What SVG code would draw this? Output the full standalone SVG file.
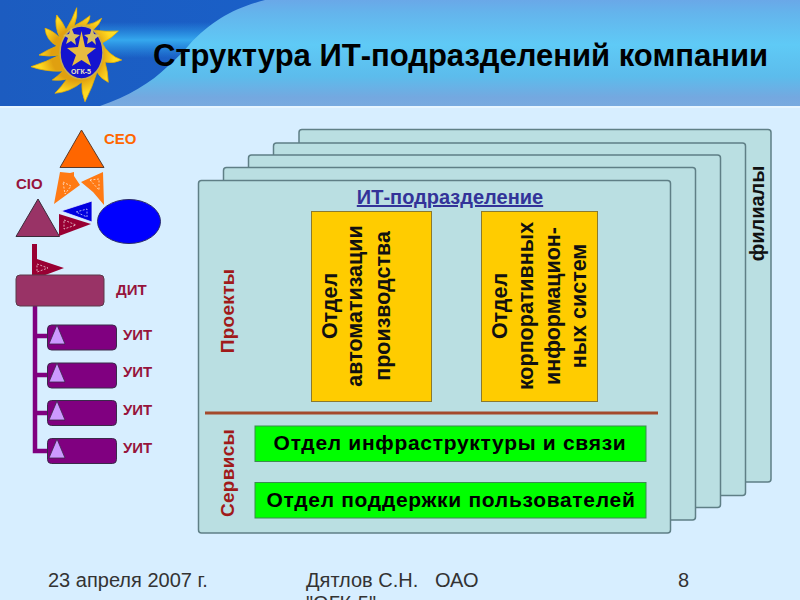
<svg xmlns="http://www.w3.org/2000/svg" width="800" height="600" viewBox="0 0 800 600">
<style>
text{font-family:"Liberation Sans",Arial,sans-serif}
.card{fill:#badfe2;stroke:#5f7f86;stroke-width:1.5}
.y{fill:#ffcc00;stroke:#8a7a30;stroke-width:1}
.g{fill:#00ff00;stroke:#3c8c50;stroke-width:1}
.v{font-size:21.500px;font-weight:bold;fill:#111;text-anchor:middle}
.b{font-size:21px;font-weight:bold;fill:#000;text-anchor:middle;letter-spacing:.7px}
.lab{font-size:15px;font-weight:bold;fill:#96143c}
.u{fill:#800080;stroke:#3a2a4a;stroke-width:1}
.tr{fill:#cc99ff;stroke:#3a2a4a;stroke-width:.8}
.foot{font-size:20px;fill:#333}
.dash{fill:none;stroke:#fff;stroke-opacity:.65;stroke-width:1;stroke-dasharray:2 1.5}
.conn{fill:none;stroke:#800080;stroke-width:4.500}
.side{font-size:19px;font-weight:bold;fill:#a01a1a;text-anchor:middle;letter-spacing:.3px}
</style>
<defs>
<linearGradient id="hdr" x1="0" y1="0" x2="1" y2="0">
<stop offset="0" stop-color="#1c5cc0"/><stop offset="1" stop-color="#1566d6"/>
</linearGradient>
<linearGradient id="sw" x1="0" y1="0" x2="0" y2="1">
<stop offset="0" stop-color="#6aa8e8"/><stop offset=".12" stop-color="#64b4ec"/><stop offset=".42" stop-color="#5fcaf6"/><stop offset=".72" stop-color="#5cbcec"/><stop offset=".92" stop-color="#74a8e0"/><stop offset="1" stop-color="#78aadf"/>
</linearGradient>
<linearGradient id="streak" x1="0" y1="0" x2="0" y2="1">
<stop offset="0" stop-color="#2a9ae8" stop-opacity="0"/><stop offset=".5" stop-color="#35a8ee"/><stop offset="1" stop-color="#2a9ae8" stop-opacity="0"/>
</linearGradient>
<radialGradient id="sun" cx=".5" cy=".5" r=".55">
<stop offset=".5" stop-color="#e0a010"/><stop offset=".75" stop-color="#ffd820"/><stop offset="1" stop-color="#ffe838"/>
</radialGradient>
</defs>
<rect width="800" height="600" fill="#d7eeff"/>
<g id="header">
<rect width="800" height="106" fill="url(#hdr)"/>
<rect x="100" y="22" width="110" height="36" fill="url(#streak)"/>
<path d="M265 0C235 8 212 20 189 45 178 58 172 62 167 67 152 82 127 97 100 106H800V0Z" fill="url(#sw)"/>
<rect y="106" width="800" height="2" fill="#e6f5ff"/>
<text x="153" y="66" font-size="31" font-weight="bold" fill="#000">Структура ИТ-подразделений компании</text>
</g>
<g id="logo">
<path d="M76.700 7.700Q78 16 74 26 Q82 22 90 15.700 Q90 20 86 25 Q94 24 101.700 18.300 Q100 24 93 30 Q106 32 118.300 31 Q112 38 102 43 Q108 55 121.700 60 Q114 64 105 62 Q108 72 108.300 82.300 Q100 78 97 72 Q92 88 85 101.700 Q81 92 82 82 Q70 92 55 93.300 Q62 86 67 79 Q60 81 52.300 80 Q58 76 63 71 Q46 72 31 66.700 Q46 62 60 55 Q48 57 39 55 Q47 50 57 46 Q46 40 45 28.300 Q52 30 60 38 Q54 26 56.700 15 Q63 22 66 30 Q72 20 76.700 7.700Z" fill="url(#sun)" stroke="#e8b000" stroke-width=".8"/>
<ellipse cx="81.500" cy="52.500" rx="21.500" ry="26.500" fill="#1414d0" stroke="#c8b050" stroke-width="1.500"/>
<path d="M81.500 31 85 47 96 48 87 55 91 66 81.500 60 72 66 76 55 67 48 78 47Z" fill="#e8bc40"/>
<path d="M71 27 74 34 80 35 75 39 76 45 71 41 66 44 68 38 63 35 69 34Z M92 27 94 34 100 35 95 39 96 45 92 41 87 44 88 38 84 35 90 34Z" fill="#d8c060"/>
<text x="81" y="74" font-size="7" font-weight="bold" fill="#f0e8c0" text-anchor="middle">ОГК-5</text>
</g>
<g id="card-4"><rect class="card" x="299" y="129.500" width="472" height="352.500" rx="3"/><text x="764" y="213.500" font-size="20" font-weight="bold" fill="#111" text-anchor="middle" transform="rotate(-90 764 213.500)">филиалы</text></g>
<g id="card-3"><rect class="card" x="273.500" y="143" width="472" height="352.500" rx="3"/></g>
<g id="card-2"><rect class="card" x="248.500" y="155" width="472" height="352.500" rx="3"/></g>
<g id="card-1"><rect class="card" x="223.500" y="167.500" width="472" height="352.500" rx="3"/></g>
<g id="card-0"><rect class="card" x="198.500" y="180.500" width="472" height="352.500" rx="3"/>
<text x="450" y="204" font-size="20" font-weight="bold" fill="#333399" text-anchor="middle" text-decoration="underline">ИТ-подразделение</text>
<text x="234" y="311" class="side" transform="rotate(-90 234 311)">Проекты</text>
<text x="234" y="473" class="side" transform="rotate(-90 234 473)">Сервисы</text>
<rect x="205" y="411.500" width="453" height="3" fill="#a34a2c"/>
</g>
<g id="dept-auto"><rect class="y" x="311.500" y="211.500" width="120" height="190"/>
<text class="v" transform="translate(337 306) rotate(-90)">Отдел</text>
<text class="v" transform="translate(362 306) rotate(-90)">автоматизации</text>
<text class="v" transform="translate(390 306) rotate(-90)">производства</text></g>
<g id="dept-corp"><rect class="y" x="481.500" y="211.500" width="116" height="190"/>
<text class="v" transform="translate(507 306) rotate(-90)">Отдел</text>
<text class="v" transform="translate(533 306) rotate(-90)">корпоративных</text>
<text class="v" transform="translate(560 306) rotate(-90)">информацион-</text>
<text class="v" transform="translate(586 306) rotate(-90)">ных систем</text></g>
<g id="dept-infra"><rect class="g" x="255" y="426" width="391" height="35.500"/><text class="b" x="450" y="450">Отдел инфраструктуры и связи</text></g>
<g id="dept-support"><rect class="g" x="255" y="482.500" width="391" height="35.500"/><text class="b" x="451" y="507">Отдел поддержки пользователей</text></g>

<g id="connectors">
<path d="M35 305V451H50M35 336H50M35 375H50M35 413H50" class="conn"/>
</g>
<g id="ceo"><path d="M81.500 130 104 167.500H60Z" fill="#ff6600" stroke="#5a3a2a"/><text x="104" y="144" class="lab" style="fill:#ff6600">CEO</text></g>
<g id="cio"><path d="M38 199 59.500 236.500H16Z" fill="#993366" stroke="#3a2a3a"/><text x="16" y="189" class="lab">CIO</text></g>
<g id="ellipse-node"><ellipse cx="129" cy="221.500" rx="31.500" ry="22" fill="#0000ff" stroke="#2a2a6a"/></g>
<g id="flags">
<path d="M60 172 70 173 74 172 74 176 80 185 54 204Z" fill="#ff7a14"/><path d="M63 182 71 186 65 194Z" class="dash"/>
<path d="M81 182 103 172 104 205 93 192Z" fill="#ff7a14"/><path d="M90 180 99 179 99 190Z" class="dash"/>
<path d="M61 211 92 201 92 222Z" fill="#0000e0" stroke="#e8f0ff" stroke-width=".8"/><path d="M76 212 87 209 87 217Z" class="dash"/>
<path d="M59 214 91 224 59 236Z" fill="#990033"/><path d="M64 220 76 225 64 229Z" class="dash"/>
<path d="M32 244H37V259L64 268 32 280Z" fill="#990033"/><path d="M37 264 48 268 37 272Z" class="dash"/>
</g>
<g id="dit"><path d="M20 275H100Q104 275 104 279V302Q104 306 100 306H20Q16 306 16 302V279Q16 275 20 275Z" fill="#993366" stroke="#5a3a4a"/><text x="116" y="295" class="lab">ДИТ</text></g>
<g id="uit-1"><rect class="u" x="47.500" y="325" width="69" height="25" rx="4"/><path class="tr" d="M57 325 65 344H49Z"/><text x="123" y="340" class="lab">УИТ</text></g>
<g id="uit-2"><rect class="u" x="47.500" y="363" width="69" height="25" rx="4"/><path class="tr" d="M57 363 65 382H49Z"/><text x="123" y="377" class="lab">УИТ</text></g>
<g id="uit-3"><rect class="u" x="47.500" y="400.500" width="69" height="25" rx="4"/><path class="tr" d="M57 401 65 420H49Z"/><text x="123" y="415" class="lab">УИТ</text></g>
<g id="uit-4"><rect class="u" x="47.500" y="438.500" width="69" height="25" rx="4"/><path class="tr" d="M57 439 65 458H49Z"/><text x="123" y="453" class="lab">УИТ</text></g>
<g id="footer">
<text class="foot" x="48" y="587">23 апреля 2007 г.</text>
<text class="foot" x="306" y="587" xml:space="preserve">Дятлов С.Н.   ОАО</text>
<text class="foot" x="306" y="610">"ОГК-5"</text>
<text class="foot" x="678" y="587">8</text>
</g>
</svg>
